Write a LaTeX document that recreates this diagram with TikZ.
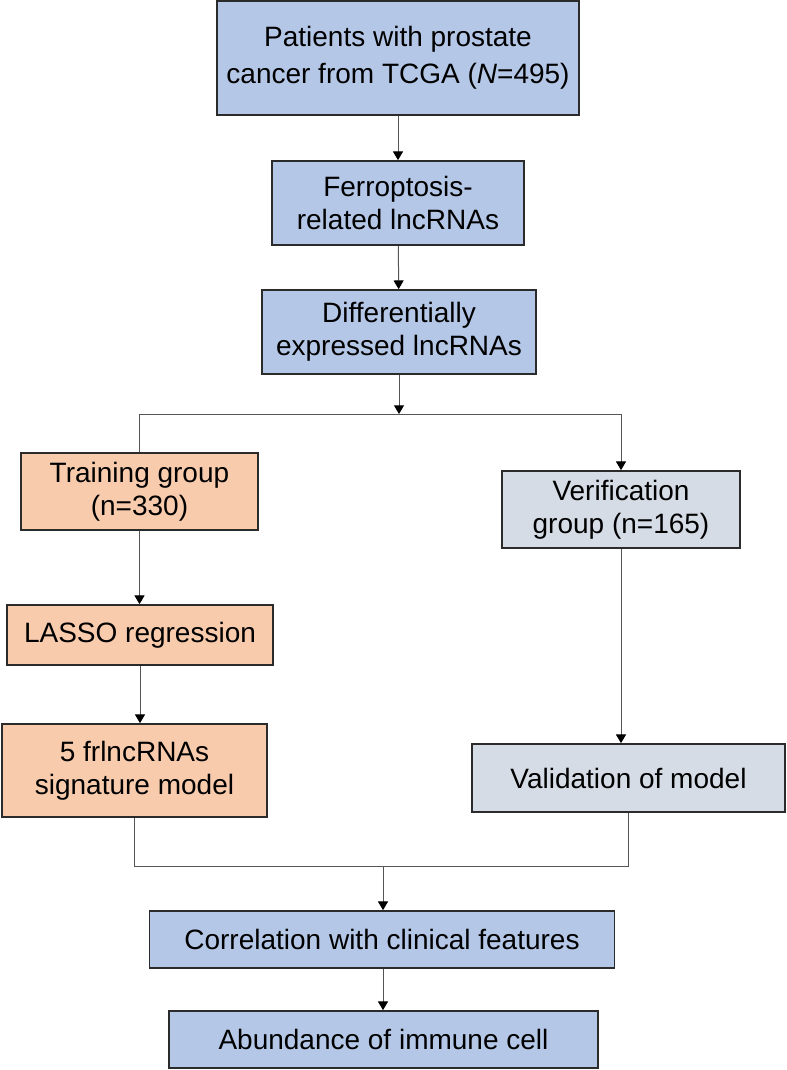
\documentclass[tikz,border=0pt]{standalone}
\usepackage{fontspec}
\setmainfont{Liberation Sans}
\usetikzlibrary{arrows.meta}

\definecolor{boxblue}{HTML}{B4C7E7}
\definecolor{boxorange}{HTML}{F8CBAD}
\definecolor{boxgray}{HTML}{D6DCE5}
\definecolor{edgegray}{HTML}{2B2B2B}
\definecolor{linegray}{HTML}{555555}

\tikzset{
    flowbox/.style={draw=edgegray, line width=1.3pt, align=center, inner sep=0pt,
        font=\fontsize{21}{24.75}\selectfont},
    bluebox/.style={flowbox, fill=boxblue},
    orangebox/.style={flowbox, fill=boxorange},
    graybox/.style={flowbox, fill=boxgray},
    link/.style={draw=linegray, line width=0.75pt},
    arrowlink/.style={link, -{Triangle[width=7.5pt,length=6.5pt,color=black]}}
}

\begin{document}
\begin{tikzpicture}[x=0.75pt,y=-0.75pt]
    \useasboundingbox (0,0) rectangle (786,1070);

    % boxes, centres in px
    \node[bluebox, minimum width=362*0.75pt, minimum height=114*0.75pt,
        font=\fontsize{21}{27.75}\selectfont] (patients) at (398,58)
        {Patients with prostate\\cancer from TCGA (\textit{N}=495)};
    \node[bluebox, minimum width=252*0.75pt, minimum height=84*0.75pt] (ferro) at (398,203)
        {Ferroptosis-\\related lncRNAs};
    \node[bluebox, minimum width=274*0.75pt, minimum height=84*0.75pt] (diff) at (399,332)
        {Differentially\\expressed lncRNAs};

    \node[orangebox, minimum width=237*0.75pt, minimum height=77*0.75pt] (train) at (139.5,491.5)
        {Training group\\(n=330)};
    \node[graybox, minimum width=238*0.75pt, minimum height=77*0.75pt] (verif) at (621,509.5)
        {Verification\\group (n=165)};

    \node[orangebox, minimum width=266*0.75pt, minimum height=60*0.75pt] (lasso) at (140,635)
        {LASSO regression};
    \node[orangebox, minimum width=265*0.75pt, minimum height=93*0.75pt] (sig) at (134.5,770.5)
        {5 frlncRNAs\\signature model};
    \node[graybox, minimum width=313*0.75pt, minimum height=68*0.75pt] (valid) at (628.5,778)
        {Validation of model};

    \node[bluebox, minimum width=465*0.75pt, minimum height=57*0.75pt] (corr) at (382,939.5)
        {Correlation with clinical features};
    \node[bluebox, minimum width=429*0.75pt, minimum height=57*0.75pt] (immune) at (383.5,1039.5)
        {Abundance of immune cell};

    % split and merge points
    \coordinate (split) at (399,414);
    \coordinate (merge) at (383,866);

    \draw[arrowlink] (patients) -- (ferro);
    \draw[arrowlink] (ferro) -- (diff);
    \draw[arrowlink] (diff) -- (split);

    \draw[link] (train.north) |- (split);
    \draw[arrowlink] (split) -| (verif.north);

    \draw[arrowlink] (train) -- (lasso.north -| train);
    \draw[arrowlink] (lasso) -- (sig.north -| lasso);
    \draw[arrowlink] (verif) -- (valid.north -| verif);

    \draw[link] (sig.south) |- (merge);
    \draw[link] (valid.south) |- (merge);
    \draw[arrowlink] (merge) -- (corr.north -| merge);
    \draw[arrowlink] (corr.south -| merge) -- (immune.north -| merge);
\end{tikzpicture}
\end{document}
